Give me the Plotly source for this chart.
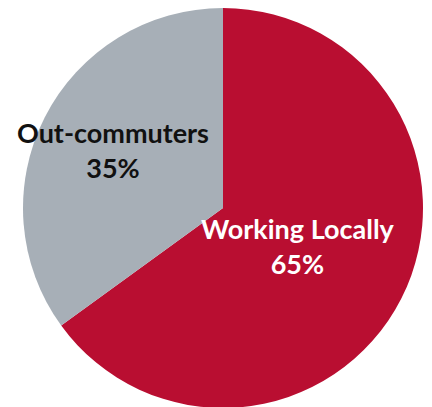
import plotly.graph_objects as go

labels = ["Working Locally", "Out-commuters"]
values = [65, 35]
colors = ["#B90E31", "#A7AFB7"]
text_colors = ["#FFFFFF", "#111111"]
# label anchor positions in plot-div pixels (page has an 8px body margin)
W, H = 432, 407
label_px = [(290, 238), (105, 142)]

fig = go.Figure(
    go.Pie(
        labels=labels,
        values=values,
        sort=False,
        direction="clockwise",
        rotation=0,
        marker=dict(colors=colors, line=dict(width=0)),
        textinfo="none",
        hoverinfo="label+percent",
        domain=dict(x=[15 / W, 415 / W], y=[1 - 400 / H, 1]),
        showlegend=False,
    )
)

total = sum(values)
for lab, val, tc, (px, py) in zip(labels, values, text_colors, label_px):
    fig.add_annotation(
        x=px / W, y=1 - py / H, xref="paper", yref="paper",
        text=f"<b>{lab}<br>{round(val / total * 100)}%</b>",
        showarrow=False,
        font=dict(family="Lato", size=27, color=tc),
        align="center",
        xanchor="center", yanchor="middle",
    )

fig.update_layout(
    width=W, height=H,
    margin=dict(l=0, r=0, t=0, b=0),
    paper_bgcolor="white", plot_bgcolor="white",
)
fig.write_html("out.html")
